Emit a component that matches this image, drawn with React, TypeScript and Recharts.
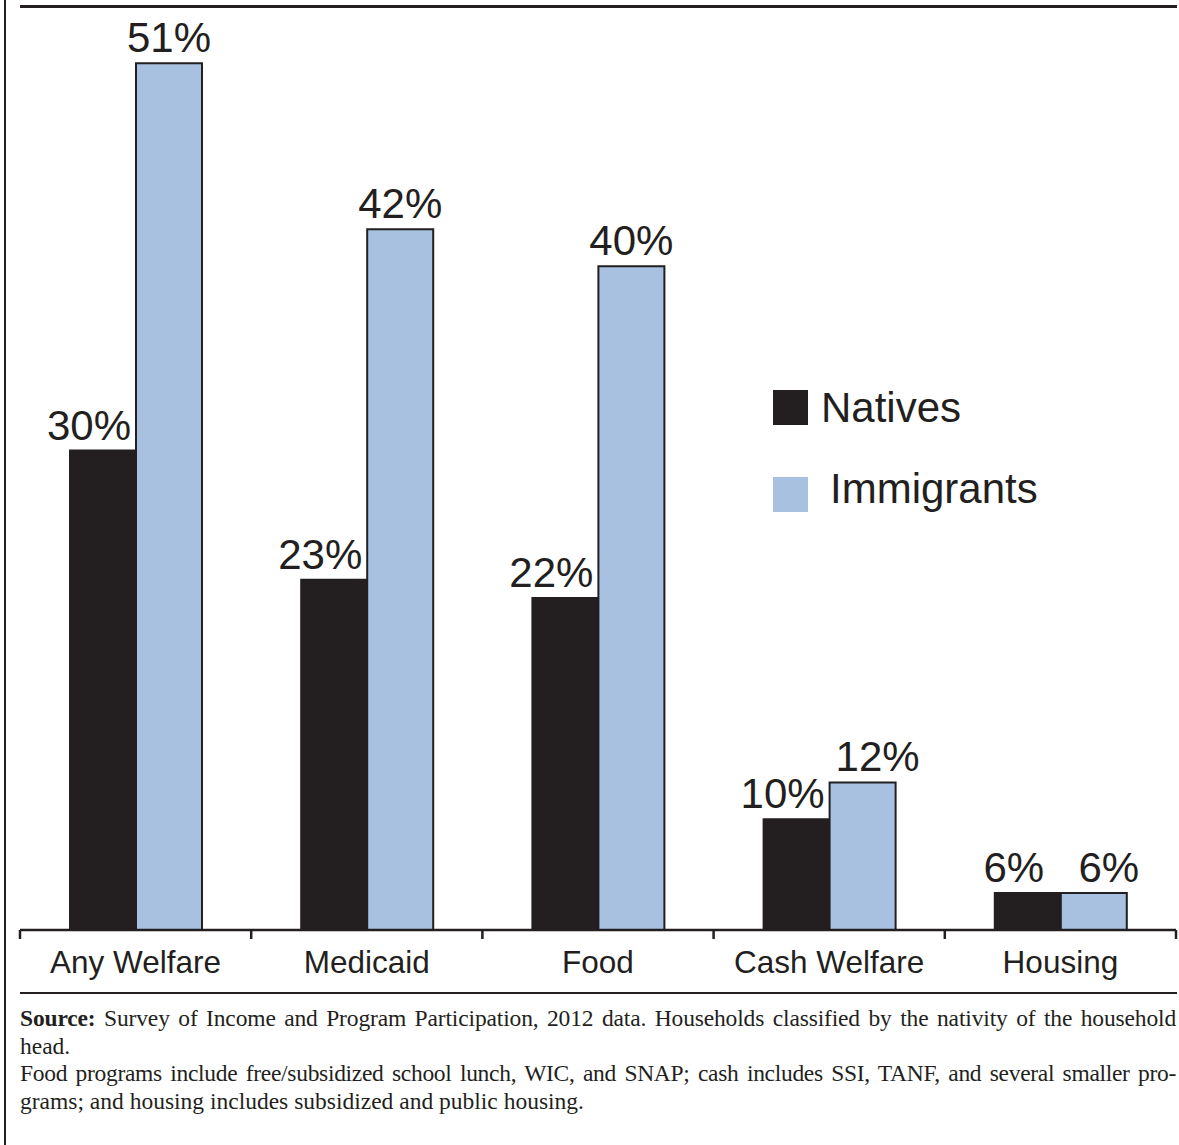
import React from "react";
import { BarChart, Bar, XAxis, YAxis, Legend, LabelList } from "recharts";

const categories = ["Any Welfare", "Medicaid", "Food", "Cash Welfare", "Housing"];
const nativesPct = [30, 23, 22, 10, 6];
const immigrantsPct = [51, 42, 40, 12, 6];
const yDomain = [4, 54];

const data = categories.map((name, i) => ({
  name,
  natives: nativesPct[i],
  immigrants: immigrantsPct[i],
}));

const INK = "#231f20";
const BLUE = "#a8c1e0";
const SANS = "'Liberation Sans', Arial, sans-serif";
const SERIF = "'Liberation Serif', 'Times New Roman', serif";

const W = 1179;
const H = 995;
const margin = { top: 8, right: 3, bottom: 3, left: 20 };
const X_AXIS_H = 62;
const BASE_Y = H - margin.bottom - X_AXIS_H;
const PLOT_W = W - margin.left - margin.right;

const CategoryTick = (props: any) => {
  const { x, payload, index } = props;
  const band = PLOT_W / categories.length;
  const left = x - band / 2;
  return (
    <g>
      <line x1={left} y1={BASE_Y} x2={left} y2={BASE_Y + 9} stroke={INK} strokeWidth={2.5} />
      {index === categories.length - 1 && (
        <line x1={x + band / 2} y1={BASE_Y} x2={x + band / 2} y2={BASE_Y + 9} stroke={INK} strokeWidth={2.5} />
      )}
      <text x={x} y={BASE_Y + 43} textAnchor="middle" fontSize={31.5} fontFamily={SANS} fill={INK}>
        {payload.value}
      </text>
    </g>
  );
};

// natives labels sit a bit left of their bar, small immigrant labels nudge right
const makeLabel = (series: "natives" | "immigrants") => (props: any) => {
  const { x, y, width, value } = props;
  let dx = series === "natives" ? -14 : 0;
  if (series === "immigrants" && value < 20) dx = 15;
  return (
    <text x={x + width / 2 + dx} y={y - 11} textAnchor="middle" fontSize={42} fontFamily={SANS} fill={INK}>
      {value}%
    </text>
  );
};

const LegendBox = () => (
  <svg width={300} height={140}>
    <rect x={0} y={10} width={35} height={35} fill={INK} />
    <text x={48} y={42} fontSize={42} fontFamily={SANS} fill={INK}>Natives</text>
    <rect x={0} y={97} width={35} height={35} fill={BLUE} />
    <text x={57} y={123} fontSize={42} fontFamily={SANS} fill={INK}>Immigrants</text>
  </svg>
);

const lineStyle: React.CSSProperties = { position: "absolute", background: INK };
const justified: React.CSSProperties = { textAlign: "justify", textAlignLast: "justify", whiteSpace: "nowrap" };

export default function App() {
  return (
    <div style={{ position: "absolute", left: 0, top: 0, width: W, height: 1145, background: "#fff" }}>
      <div style={{ ...lineStyle, left: 4, top: 0, width: 2, height: 1145 }} />
      <div style={{ ...lineStyle, left: 20, top: 5, width: 1157, height: 2.5 }} />
      <BarChart width={W} height={H} data={data} margin={margin} barGap={0}>
        <XAxis
          dataKey="name"
          height={X_AXIS_H}
          axisLine={{ stroke: INK, strokeWidth: 2.5 }}
          tickLine={false}
          tick={<CategoryTick />}
          interval={0}
        />
        <YAxis hide domain={yDomain} allowDataOverflow />
        <Legend
          layout="vertical"
          align="center"
          verticalAlign="middle"
          content={<LegendBox />}
          wrapperStyle={{ left: 773, top: 380, width: 300 }}
        />
        <Bar dataKey="natives" fill={INK} stroke={INK} strokeWidth={2} barSize={66} isAnimationActive={false}>
          <LabelList dataKey="natives" content={makeLabel("natives")} />
        </Bar>
        <Bar dataKey="immigrants" fill={BLUE} stroke={INK} strokeWidth={2} barSize={66} isAnimationActive={false}>
          <LabelList dataKey="immigrants" content={makeLabel("immigrants")} />
        </Bar>
      </BarChart>
      <div style={{ ...lineStyle, left: 20, top: 991.5, width: 1157, height: 2.5 }} />
      <div
        style={{
          position: "absolute",
          left: 20,
          top: 1005,
          width: 1156,
          fontFamily: SERIF,
          fontSize: 23.5,
          lineHeight: "27.7px",
          color: INK,
        }}
      >
        <div style={{ ...justified, letterSpacing: -0.15 }}>
          <b>Source:</b> Survey of Income and Program Participation, 2012 data. Households classified by the nativity of the household
        </div>
        <div>head.</div>
        <div style={{ ...justified, letterSpacing: -0.3 }}>
          Food programs include free/subsidized school lunch, WIC, and SNAP; cash includes SSI, TANF, and several smaller pro-
        </div>
        <div>grams; and housing includes subsidized and public housing.</div>
      </div>
    </div>
  );
}
